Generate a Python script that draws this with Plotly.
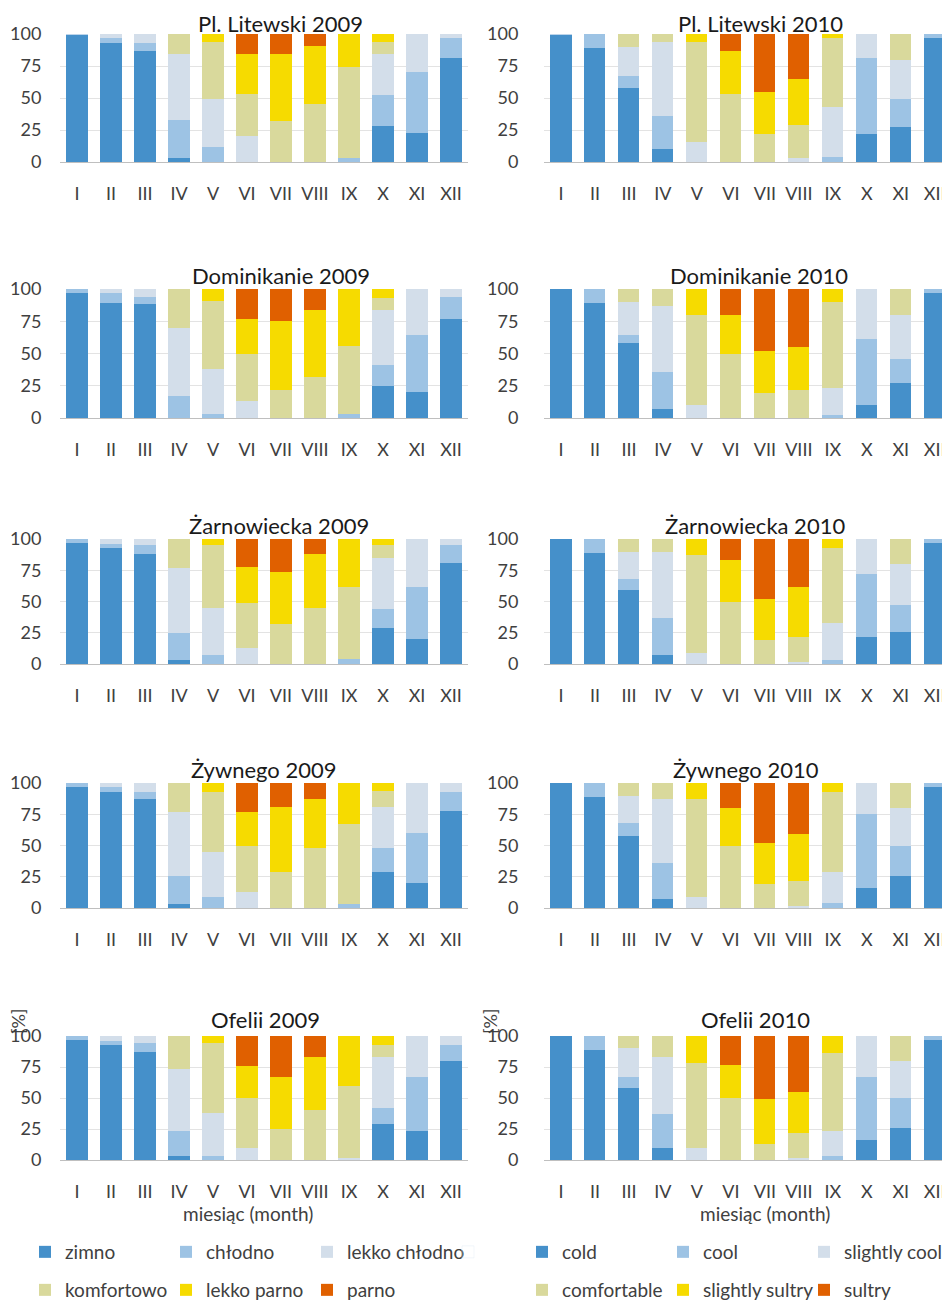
import plotly.graph_objects as go

months = ["I", "II", "III", "IV", "V", "VI", "VII", "VIII", "IX", "X", "XI", "XII"]
cat_pl = ["zimno", "chłodno", "lekko chłodno", "komfortowo", "lekko parno", "parno"]
cat_en = ["cold", "cool", "slightly cool", "comfortable", "slightly sultry", "sultry"]
colors = ["#4590CA", "#9DC3E4", "#D3DEEA", "#D9D99C", "#F6DB00", "#E06000"]

# each panel: rows = cold, cool, slightly cool, comfortable, slightly sultry, sultry (% of days)
litewski_2009 = [
    [100, 93, 87, 3, 0, 0, 0, 0, 0, 28, 23, 81],
    [0, 4, 6, 30, 12, 0, 0, 0, 3, 24, 47, 16],
    [0, 3, 7, 51, 37, 20, 0, 0, 0, 32, 30, 3],
    [0, 0, 0, 16, 45, 33, 32, 45, 71, 10, 0, 0],
    [0, 0, 0, 0, 6, 31, 52, 46, 26, 6, 0, 0],
    [0, 0, 0, 0, 0, 16, 16, 9, 0, 0, 0, 0],
]
litewski_2010 = [
    [100, 89, 58, 10, 0, 0, 0, 0, 0, 22, 27, 97],
    [0, 11, 9, 26, 0, 0, 0, 0, 4, 59, 22, 3],
    [0, 0, 23, 58, 16, 0, 0, 3, 39, 19, 31, 0],
    [0, 0, 10, 6, 78, 53, 22, 26, 54, 0, 20, 0],
    [0, 0, 0, 0, 6, 34, 33, 36, 3, 0, 0, 0],
    [0, 0, 0, 0, 0, 13, 45, 35, 0, 0, 0, 0],
]
dominikanie_2009 = [
    [97, 89, 88, 0, 0, 0, 0, 0, 0, 25, 20, 77],
    [3, 8, 6, 17, 3, 0, 0, 0, 3, 16, 44, 17],
    [0, 3, 6, 53, 35, 13, 0, 0, 0, 43, 36, 6],
    [0, 0, 0, 30, 53, 37, 22, 32, 53, 9, 0, 0],
    [0, 0, 0, 0, 9, 27, 53, 52, 44, 7, 0, 0],
    [0, 0, 0, 0, 0, 23, 25, 16, 0, 0, 0, 0],
]
dominikanie_2010 = [
    [100, 89, 58, 7, 0, 0, 0, 0, 0, 10, 27, 97],
    [0, 11, 6, 29, 0, 0, 0, 0, 2, 51, 19, 3],
    [0, 0, 26, 51, 10, 0, 0, 0, 21, 39, 34, 0],
    [0, 0, 10, 13, 70, 50, 19, 22, 67, 0, 20, 0],
    [0, 0, 0, 0, 20, 30, 33, 33, 10, 0, 0, 0],
    [0, 0, 0, 0, 0, 20, 48, 45, 0, 0, 0, 0],
]
zarnowiecka_2009 = [
    [97, 93, 88, 3, 0, 0, 0, 0, 0, 29, 20, 81],
    [3, 3, 7, 22, 7, 0, 0, 0, 4, 15, 42, 14],
    [0, 4, 5, 52, 38, 13, 0, 0, 0, 41, 38, 5],
    [0, 0, 0, 23, 50, 36, 32, 45, 58, 10, 0, 0],
    [0, 0, 0, 0, 5, 29, 42, 43, 38, 5, 0, 0],
    [0, 0, 0, 0, 0, 22, 26, 12, 0, 0, 0, 0],
]
zarnowiecka_2010 = [
    [100, 89, 59, 7, 0, 0, 0, 0, 0, 22, 26, 97],
    [0, 11, 9, 30, 0, 0, 0, 0, 3, 50, 21, 3],
    [0, 0, 22, 53, 9, 0, 0, 2, 30, 28, 33, 0],
    [0, 0, 10, 10, 78, 50, 19, 20, 60, 0, 20, 0],
    [0, 0, 0, 0, 13, 33, 33, 40, 7, 0, 0, 0],
    [0, 0, 0, 0, 0, 17, 48, 38, 0, 0, 0, 0],
]
zywnego_2009 = [
    [97, 93, 87, 3, 0, 0, 0, 0, 0, 29, 20, 78],
    [3, 4, 6, 23, 9, 0, 0, 0, 3, 19, 40, 15],
    [0, 3, 7, 51, 36, 13, 0, 0, 0, 33, 40, 7],
    [0, 0, 0, 23, 48, 37, 29, 48, 64, 13, 0, 0],
    [0, 0, 0, 0, 7, 27, 52, 39, 33, 6, 0, 0],
    [0, 0, 0, 0, 0, 23, 19, 13, 0, 0, 0, 0],
]
zywnego_2010 = [
    [100, 89, 58, 7, 0, 0, 0, 0, 0, 16, 26, 97],
    [0, 11, 10, 29, 0, 0, 0, 0, 4, 59, 24, 3],
    [0, 0, 22, 51, 9, 0, 0, 2, 25, 25, 30, 0],
    [0, 0, 10, 13, 78, 50, 19, 20, 64, 0, 20, 0],
    [0, 0, 0, 0, 13, 30, 33, 37, 7, 0, 0, 0],
    [0, 0, 0, 0, 0, 20, 48, 41, 0, 0, 0, 0],
]
ofelii_2009 = [
    [97, 93, 87, 3, 0, 0, 0, 0, 0, 29, 23, 80],
    [3, 3, 7, 20, 3, 0, 0, 0, 0, 13, 44, 13],
    [0, 4, 6, 50, 35, 10, 0, 0, 2, 41, 33, 7],
    [0, 0, 0, 27, 56, 40, 25, 40, 58, 10, 0, 0],
    [0, 0, 0, 0, 6, 26, 42, 43, 40, 7, 0, 0],
    [0, 0, 0, 0, 0, 24, 33, 17, 0, 0, 0, 0],
]
ofelii_2010 = [
    [100, 89, 58, 10, 0, 0, 0, 0, 0, 16, 26, 97],
    [0, 11, 9, 27, 0, 0, 0, 0, 3, 51, 24, 3],
    [0, 0, 23, 46, 10, 0, 0, 2, 20, 33, 30, 0],
    [0, 0, 10, 17, 68, 50, 13, 20, 63, 0, 20, 0],
    [0, 0, 0, 0, 22, 27, 36, 33, 14, 0, 0, 0],
    [0, 0, 0, 0, 0, 23, 51, 45, 0, 0, 0, 0],
]

titles = ["Pl. Litewski 2009", "Pl. Litewski 2010", "Dominikanie 2009", "Dominikanie 2010",
          "Żarnowiecka 2009", "Żarnowiecka 2010", "Żywnego 2009", "Żywnego 2010",
          "Ofelii 2009", "Ofelii 2010"]
panels = [litewski_2009, litewski_2010, dominikanie_2009, dominikanie_2010,
          zarnowiecka_2009, zarnowiecka_2010, zywnego_2009, zywnego_2010,
          ofelii_2009, ofelii_2010]

# the page body has an 8px margin; the figure is sized so it ends at the window edge
OFF = 8
W, H = 950 - OFF, 1302 - OFF
FONT = "Lato"
TXT = "#404040"


def fx(px):
    return (px - OFF) / W


def fy(py):
    return 1 - (py - OFF) / H


x_px = [(60, 468), (544, 950)]
x_rng = [[-0.5, 11.5], [-0.5, 11.45]]
y_px = [(34, 162), (289, 418), (539, 664), (783, 908), (1036, 1160)]
title_x = [280, 760, 281, 759, 279, 755, 264, 746, 265, 755]
title_y = [23, 275, 525, 770, 1019]

fig = go.Figure()
layout = {}
annotations = []

for k, (title, data) in enumerate(zip(titles, panels)):
    row, col = divmod(k, 2)
    ax = "" if k == 0 else str(k + 1)
    for c in range(6):
        show = k in (0, 1)
        if col == 0:
            name = cat_pl[c]
            leg = "legend" if c < 3 else "legend2"
        else:
            name = cat_en[c]
            leg = "legend3" if c < 3 else "legend4"
        fig.add_trace(go.Bar(
            x=months, y=data[c], name=name, marker=dict(color=colors[c], line=dict(width=0)),
            xaxis="x" + ax, yaxis="y" + ax, showlegend=show, legend=leg,
        ))
    x0, x1 = x_px[col]
    yt, yb = y_px[row]
    layout["xaxis" + ax] = dict(
        domain=[max(fx(x0), 0), min(fx(x1), 1.0)], anchor="y" + ax, type="category",
        range=x_rng[col],
        showline=True, linecolor="#BFBFBF", linewidth=1, showgrid=False,
        ticks="outside", ticklen=15, tickcolor="rgba(0,0,0,0)",
        tickfont=dict(family=FONT, size=18, color=TXT), fixedrange=True,
    )
    layout["yaxis" + ax] = dict(
        domain=[fy(yb), fy(yt)], anchor="x" + ax, range=[0, 100],
        tickvals=[0, 25, 50, 75, 100], showgrid=True, gridcolor="#E3E3E3", gridwidth=1,
        zeroline=False, showline=False,
        ticks="outside", ticklen=14 if col == 0 else 21, tickcolor="rgba(0,0,0,0)",
        tickfont=dict(family=FONT, size=18, color=TXT), fixedrange=True,
    )
    annotations.append(dict(
        text=title, x=fx(title_x[k]), y=fy(title_y[row]), xref="paper", yref="paper",
        xanchor="center", yanchor="middle", showarrow=False,
        font=dict(family=FONT, size=22, color="#1A1A1A"),
    ))

# invisible spacer entries so the third legend label in a row is not clipped
for leg_id, ax in (("legend", ""), ("legend3", "2")):
    fig.add_trace(go.Bar(
        x=[months[0]], y=[0], name=" ", marker=dict(color="rgba(0,0,0,0)"),
        xaxis="x" + ax, yaxis="y" + ax, showlegend=True, legend=leg_id, hoverinfo="skip",
    ))

for cx in (248, 765):
    annotations.append(dict(
        text="miesiąc (month)", x=fx(cx), y=fy(1213), xref="paper", yref="paper",
        xanchor="center", yanchor="middle", showarrow=False,
        font=dict(family=FONT, size=19, color=TXT),
    ))
for cx in (18, 490):
    annotations.append(dict(
        text="[%]", x=fx(cx), y=fy(1022), xref="paper", yref="paper",
        xanchor="center", yanchor="middle", showarrow=False, textangle=-90,
        font=dict(family=FONT, size=18, color=TXT),
    ))


def leg(xpx, ypx):
    return dict(
        orientation="h", x=fx(xpx), y=fy(ypx), xanchor="left", yanchor="middle",
        font=dict(family=FONT, size=19, color=TXT), entrywidth=96, entrywidthmode="pixels",
        bgcolor="rgba(0,0,0,0)", itemclick=False, itemdoubleclick=False,
        traceorder="normal",
    )


fig.update_layout(
    width=W, height=H, margin=dict(l=0, r=0, t=0, b=0, autoexpand=False),
    barmode="stack", bargap=0.38,
    plot_bgcolor="white", paper_bgcolor="white",
    annotations=annotations,
    legend=leg(25, 1252), legend2=leg(25, 1290),
    legend3=leg(522, 1252), legend4=leg(522, 1290),
    **layout,
)

fig.write_html(
    "out.html",
    post_script="document.documentElement.style.overflow='hidden';"
                "document.body.style.overflow='hidden';",
)
